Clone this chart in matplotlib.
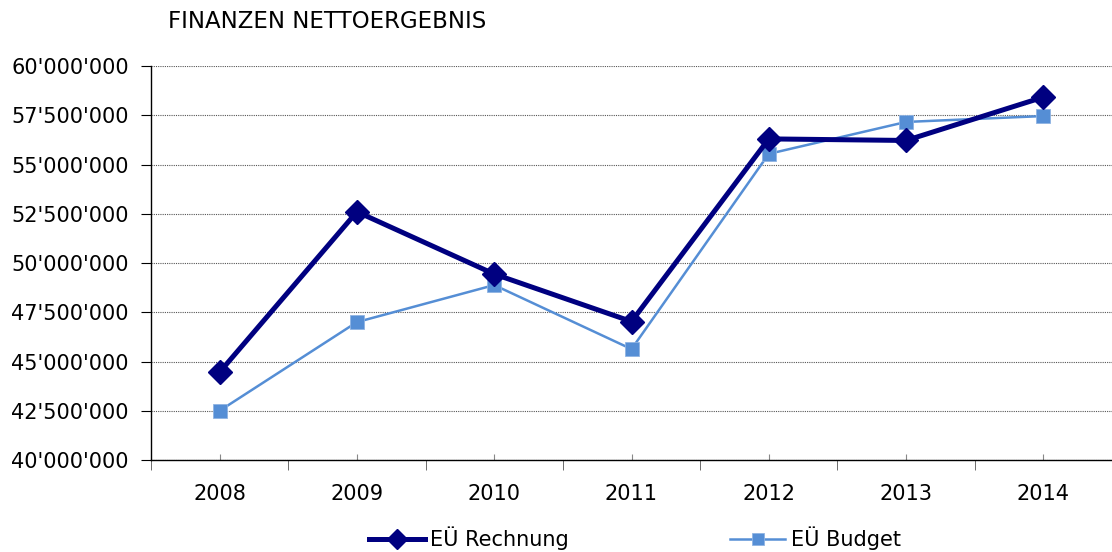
import numpy as np
import matplotlib
matplotlib.use("Agg")
import matplotlib.pyplot as plt
from matplotlib.ticker import FuncFormatter, MultipleLocator

years = ["2008", "2009", "2010", "2011", "2012", "2013", "2014"]
rechnung = [44460000, 52600000, 49440000, 47030000, 56300000, 56220000, 58420000]
budget = [42500000, 47000000, 48880000, 45630000, 55540000, 57160000, 57460000]

title = "FINANZEN NETTOERGEBNIS"
label_rechnung = "EÜ Rechnung"
label_budget = "EÜ Budget"

plt.rcParams["font.family"] = "DejaVu Sans"
plt.rcParams["font.size"] = 15

W, H = 1112, 552
fig = plt.figure(figsize=(W / 100, H / 100), dpi=100)

left, right = 151 / W, 1.0
bottom, top = (H - 460) / H, (H - 66) / H
ax = fig.add_axes([left, bottom, right - left, top - bottom])

x = np.arange(len(years))

ax.plot(x, rechnung, color="#000080", linewidth=3.6, marker="D",
        markersize=12, label=label_rechnung, zorder=4)
ax.plot(x, budget, color="#558ED5", linewidth=1.8, marker="s",
        markersize=10.5, markeredgecolor="#8FB4E3", markeredgewidth=0.6,
        markerfacecolor="#558ED5", label=label_budget, zorder=3)

ax.set_ylim(40000000, 60000000)
ax.set_xlim(-0.5, 6.5 - 5 / 138)
ax.yaxis.set_major_locator(MultipleLocator(2500000))


def swiss(v, pos):
    return f"{int(round(v)):,}".replace(",", "'")


ax.yaxis.set_major_formatter(FuncFormatter(swiss))
ax.grid(axis="y", linestyle=(0, (1, 1)), color="#555555", linewidth=0.8)
ax.set_axisbelow(True)

ax.set_xticks(x)
ax.set_xticklabels(years)
ax.set_xticks(np.arange(-0.5, 7, 1), minor=True)
ax.tick_params(axis="x", which="major", direction="in", length=4,
               color="#888888", pad=17)
ax.tick_params(axis="x", which="minor", direction="out", length=7,
               color="#555555")
ax.tick_params(axis="y", direction="out", length=7, pad=9)

for side in ["top", "right"]:
    ax.spines[side].set_visible(False)
ax.spines["left"].set_linewidth(1.0)
ax.spines["bottom"].set_linewidth(1.0)

fig.text(168 / W, 1 - 21 / H, title, ha="left", va="center", fontsize=16.5)

leg = fig.legend(loc="center", bbox_to_anchor=(635 / W, 1 - 538 / H), ncol=2,
                 frameon=False, handlelength=2.65, handletextpad=0.25,
                 columnspacing=7.75, fontsize=15, markerscale=0.85)

fig.savefig("out.png", dpi=100)
